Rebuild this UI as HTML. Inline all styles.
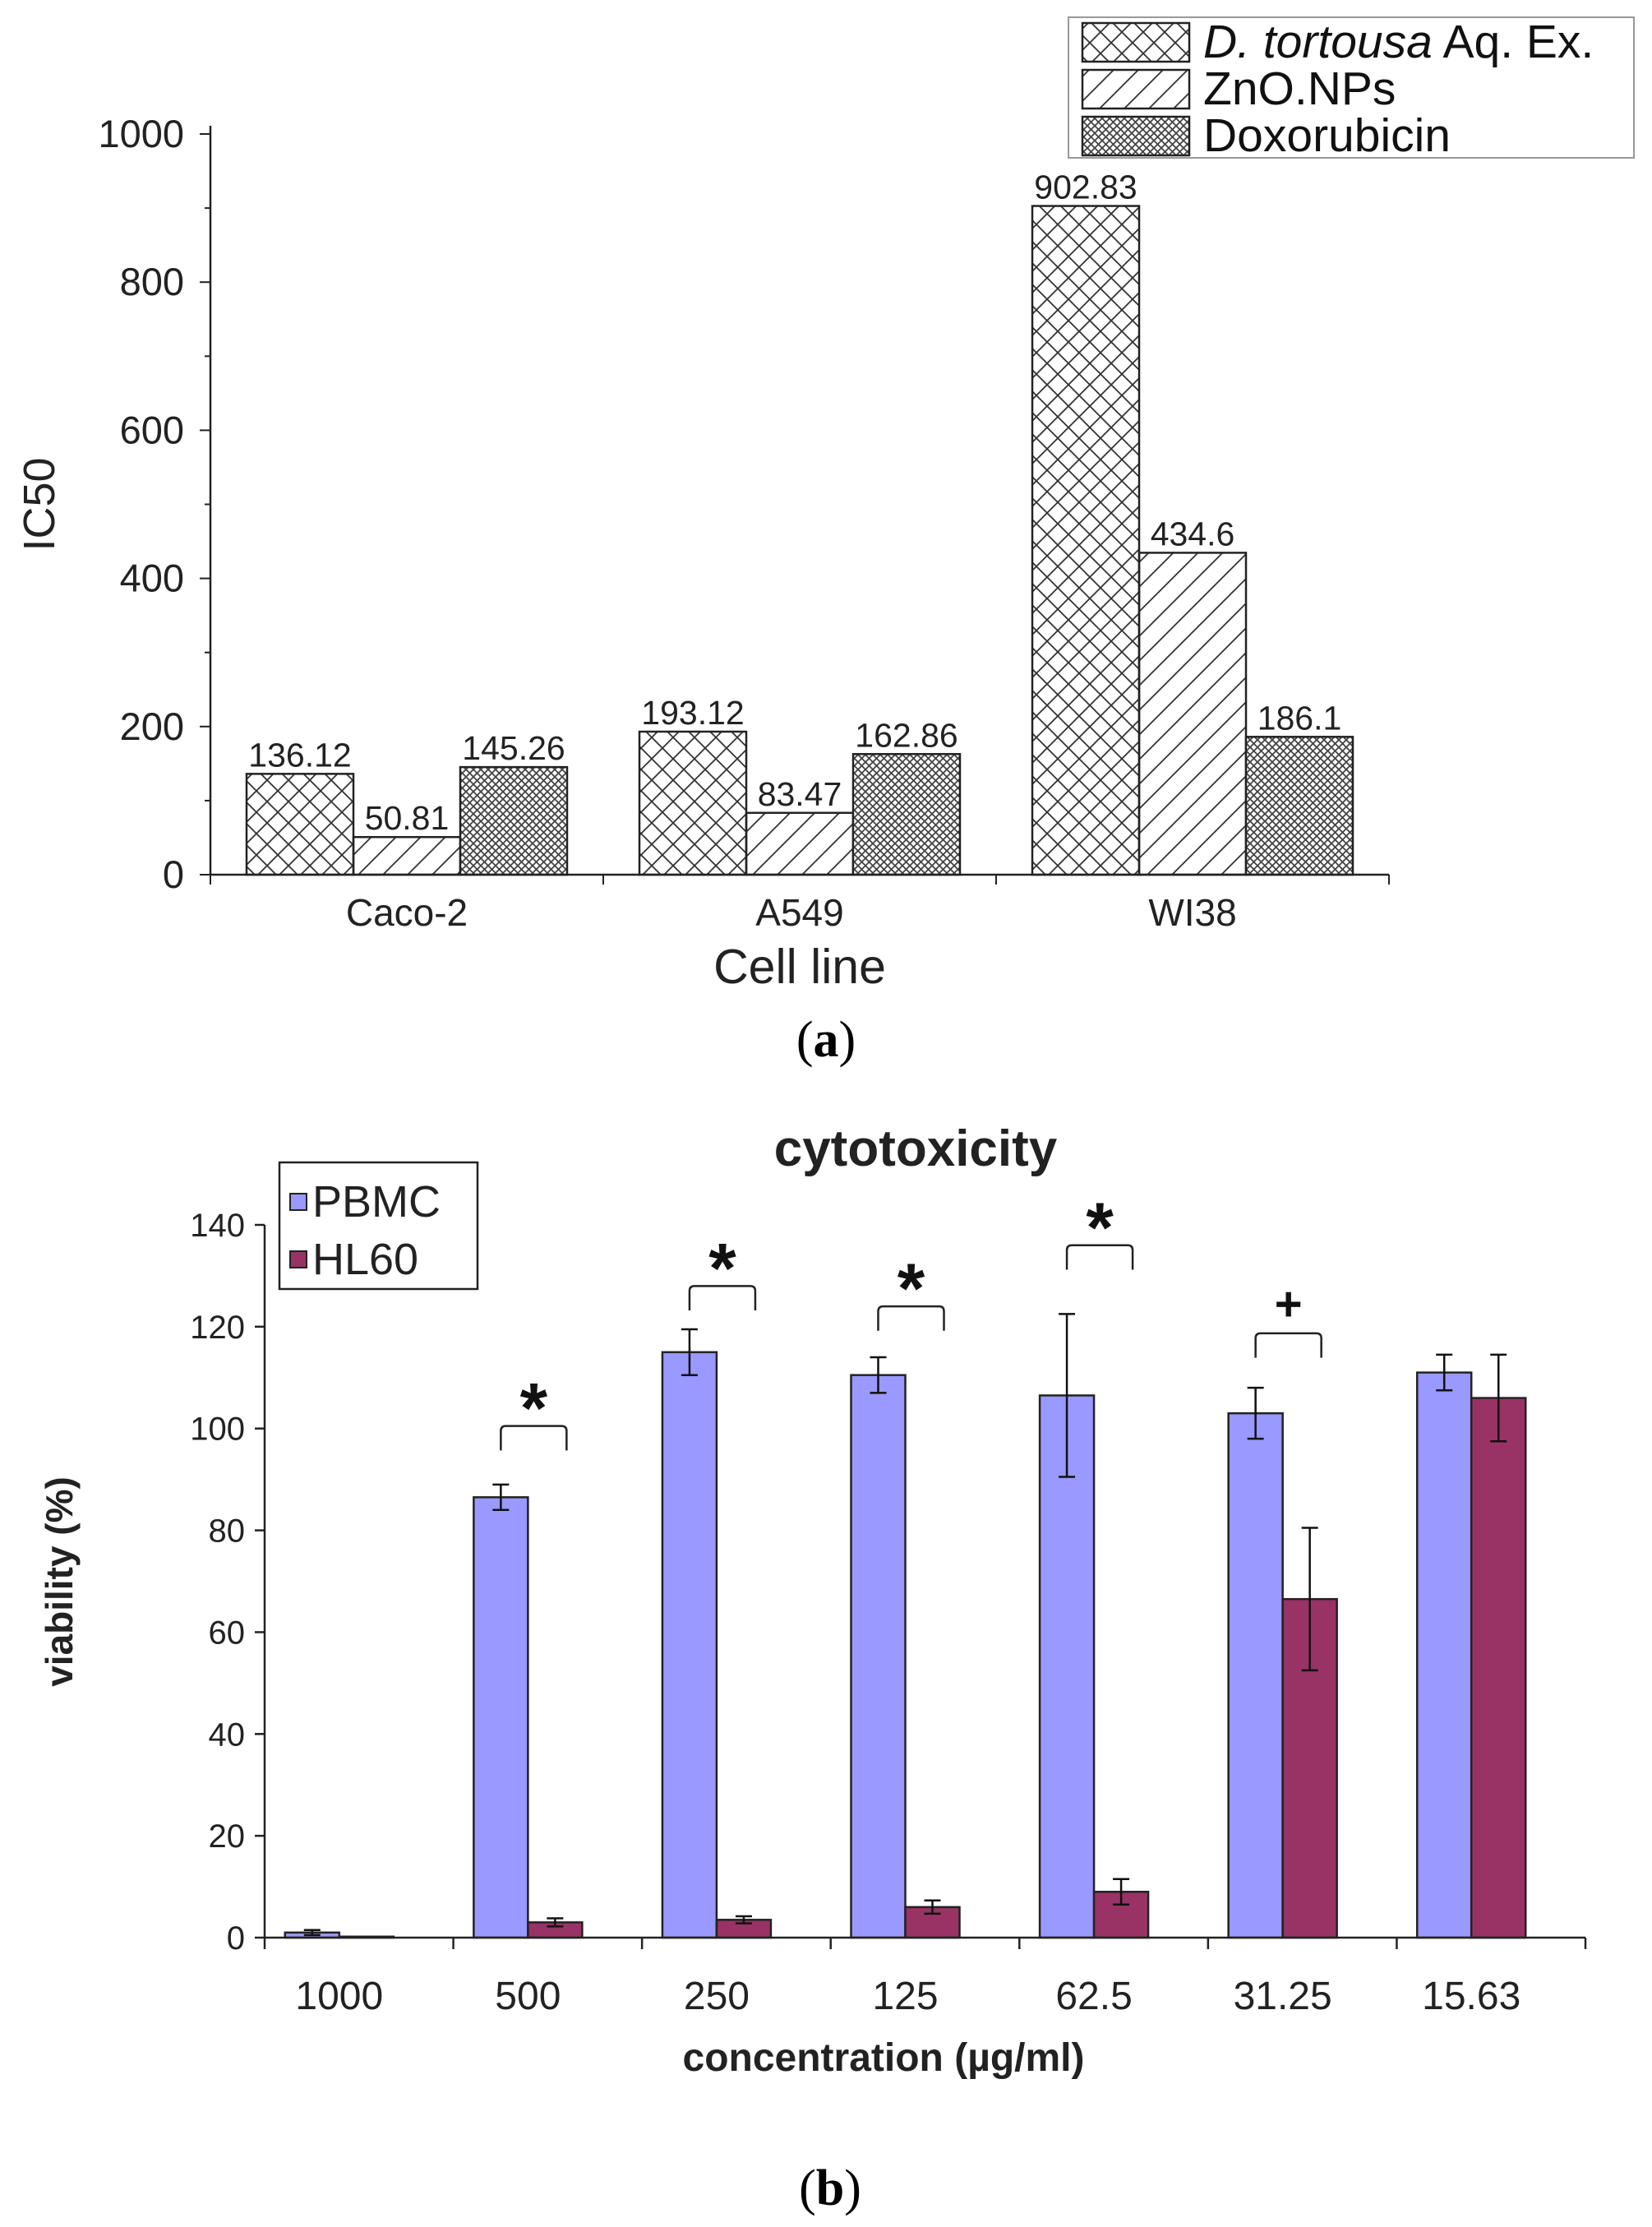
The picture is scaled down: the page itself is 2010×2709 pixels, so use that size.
<!DOCTYPE html>
<html><head><meta charset="utf-8"><style>
html,body{margin:0;padding:0;background:#fff;}
svg{display:block;font-family:"Liberation Sans",sans-serif;}
</style></head><body>
<svg id="fig" width="2010" height="2709" viewBox="0 0 2010 2709" xmlns="http://www.w3.org/2000/svg">
<defs>
<pattern id="pCross" width="26" height="26" patternUnits="userSpaceOnUse">
<path d="M0,0L26,26M26,0L0,26" stroke="#333" stroke-width="1.8"/></pattern>
<pattern id="pDiag" width="30" height="30" patternUnits="userSpaceOnUse">
<path d="M-8,38L38,-8M-8,8L8,-8M22,38L38,22" stroke="#333" stroke-width="1.8"/></pattern>
<pattern id="pDense" width="9" height="9" patternUnits="userSpaceOnUse">
<rect width="9" height="9" fill="#fff"/><path d="M0,0L9,9M9,0L0,9" stroke="#444" stroke-width="1.8"/></pattern>
</defs>
<g id="chartA"></g>
<g id="chartB"></g>
</svg>
<script>
// ---- Chart A data ----
const catsA = ["Caco-2","A549","WI38"];
const seriesNamesA = ["D. tortousa Aq. Ex.","ZnO.NPs","Doxorubicin"];
const dtortousaVals = [136.12,193.12,902.83];
const znoVals = [50.81,83.47,434.6];
const doxVals = [145.26,162.86,186.1];
const ticksA = [0,200,400,600,800,1000];
// ---- Chart B data ----
const catsB = ["1000","500","250","125","62.5","31.25","15.63"];
const pbmcVals = [1,86.5,115,110.5,106.5,103,111];
const pbmcErr = [0.5,2.5,4.5,3.5,16,5,3.5];
const hl60Vals = [0.2,3,3.5,6,9,66.5,106];
const hl60Err = [0,0.8,0.7,1.3,2.5,14,8.5];
const sigTop = [null,100.5,128,124,136,118.7,null];
const sigMark = [null,"*","*","*","*","+",null];
const ticksB = [0,20,40,60,80,100,120,140];

const NS="http://www.w3.org/2000/svg";
function mk(parent,tag,attrs,text){const e=document.createElementNS(NS,tag);for(const k in attrs)e.setAttribute(k,attrs[k]);if(text!==undefined)e.textContent=text;parent.appendChild(e);return e;}

// ===== Chart A =====
(function(){
const g=document.getElementById('chartA');
const L=256,R=1690,Y0=1064,Y1=163;
const y=v=>Y0-(v/1000)*(Y0-Y1);
const gw=(R-L)/catsA.length, bw=130, pad=(gw-3*bw)/2;
const fills=["url(#pCross)","url(#pDiag)","url(#pDense)"];
const series=[dtortousaVals,znoVals,doxVals];
series.forEach((vals,s)=>{vals.forEach((v,i)=>{
 const x=L+i*gw+pad+s*bw;
 const r=mk(g,'rect',{x:x,y:y(v),width:bw,height:Y0-y(v),fill:fills[s],stroke:'#222','stroke-width':2.5});
 
 
 const t=mk(g,'text',{x:x+bw/2,y:y(v)-9,'text-anchor':'middle','font-size':41,fill:'#222'},String(v));
 
 
});});
mk(g,'line',{x1:L,y1:Y1-10,x2:L,y2:Y0,stroke:'#222','stroke-width':2.5});
mk(g,'line',{x1:L,y1:Y0,x2:R,y2:Y0,stroke:'#222','stroke-width':2.5});
for(let v=0;v<=1000;v+=100){mk(g,'line',{x1:L-(v%200?7:13),y1:y(v),x2:L,y2:y(v),stroke:'#222','stroke-width':2});}
ticksA.forEach(v=>{const t=mk(g,'text',{x:L-32,y:y(v)+16,'text-anchor':'end','font-size':47,fill:'#222'},v);
 });
for(let i=0;i<=catsA.length;i++){mk(g,'line',{x1:L+i*gw,y1:Y0,x2:L+i*gw,y2:Y0+12,stroke:'#222','stroke-width':2});}
catsA.forEach((c,i)=>{const t=mk(g,'text',{x:L+(i+0.5)*gw,y:Y0+62,'text-anchor':'middle','font-size':46,fill:'#222'},c);
 });
let t=mk(g,'text',{x:0,y:0,transform:'translate(66,'+((Y0+Y1)/2)+') rotate(-90)','text-anchor':'middle','font-size':54,fill:'#222'},'IC50');

t=mk(g,'text',{x:(L+R)/2,y:1196,'text-anchor':'middle','font-size':59,fill:'#222'},'Cell line');

t=mk(g,'text',{x:1005,y:1285,'text-anchor':'middle','font-size':62,'font-family':'Liberation Serif, serif',fill:'#000'},'');
mk(t,'tspan',{},'(');mk(t,'tspan',{'font-weight':'bold'},'a');mk(t,'tspan',{},')');

// legend
const lg=mk(g,'g',{});

mk(lg,'rect',{x:1300,y:21,width:688,height:171,fill:'#fff',stroke:'#999','stroke-width':2});
const rowsY=[28,85,142];
seriesNamesA.forEach((n,s)=>{
 mk(lg,'rect',{x:1317,y:rowsY[s],width:130,height:47,fill:fills[s],stroke:'#222','stroke-width':2.5});
 const tx=mk(lg,'text',{x:1464,y:rowsY[s]+42,'font-size':57,fill:'#111'},'');
 if(s===0){mk(tx,'tspan',{'font-style':'italic'},'D. tortousa');mk(tx,'tspan',{},' Aq. Ex.');}
 else tx.textContent=n;
 
});
})();

// ===== Chart B =====
(function(){
const g=document.getElementById('chartB');
const L=322,R=1929,Y0=2357,Y1=1490;
const y=v=>Y0-(v/140)*(Y0-Y1);
const cw=(R-L)/catsB.length,bw=66,off=-24;
const cols=["#9999ff","#993366"];
catsB.forEach((c,i)=>{
 const cx=L+(i+0.5)*cw+off;
 [[pbmcVals,pbmcErr],[hl60Vals,hl60Err]].forEach((p,s)=>{
  const v=p[0][i],e=p[1][i],x=cx-bw+s*bw;
  const r=mk(g,'rect',{x:x,y:y(v),width:bw,height:Y0-y(v),fill:cols[s],stroke:'#222','stroke-width':2.5});
  
  
  if(e>0){const mx=x+bw/2;
   mk(g,'path',{d:`M${mx},${y(v+e)}V${y(v-e)}M${mx-10},${y(v+e)}H${mx+10}M${mx-10},${y(v-e)}H${mx+10}`,stroke:'#111','stroke-width':2.5,fill:'none'});}
 });
 if(sigTop[i]!==null){
  const x1=cx-bw/2,x2=cx+bw/2+14,yt=y(sigTop[i]),yb=y(sigTop[i]-4.8);
  mk(g,'path',{d:`M${x1},${yb}V${yt+6}Q${x1},${yt} ${x1+6},${yt}H${x2-6}Q${x2},${yt} ${x2},${yt+6}V${yb}`,stroke:'#222','stroke-width':2.5,fill:'none'});
  const isStar=sigMark[i]==='*';
  const m=mk(g,'text',{x:(x1+x2)/2,y:isStar?yt+8:yt-16,'text-anchor':'middle','font-size':isStar?86:58,'font-weight':'bold',fill:'#111'},sigMark[i]);
  
 }
 const t=mk(g,'text',{x:cx,y:Y0+87,'text-anchor':'middle','font-size':48,fill:'#222'},c);
 
});
mk(g,'line',{x1:L,y1:Y1,x2:L,y2:Y0,stroke:'#222','stroke-width':2.5});
mk(g,'line',{x1:L,y1:Y0,x2:R,y2:Y0,stroke:'#222','stroke-width':2.5});
ticksB.forEach(v=>{mk(g,'line',{x1:L-12,y1:y(v),x2:L,y2:y(v),stroke:'#222','stroke-width':2.5});
 const t=mk(g,'text',{x:L-24,y:y(v)+14,'text-anchor':'end','font-size':40,fill:'#222'},v);
 });
for(let i=0;i<=catsB.length;i++){mk(g,'line',{x1:L+i*cw,y1:Y0,x2:L+i*cw,y2:Y0+14,stroke:'#222','stroke-width':2.5});}
let t=mk(g,'text',{x:1114,y:1418,'text-anchor':'middle','font-size':62,'font-weight':'bold',fill:'#222'},'cytotoxicity');

t=mk(g,'text',{x:0,y:0,transform:'translate(88,1924) rotate(-90)','text-anchor':'middle','font-size':46,'font-weight':'bold',fill:'#222'},'viability (%)');

t=mk(g,'text',{x:1075,y:2519,'text-anchor':'middle','font-size':48,'font-weight':'bold',fill:'#222'},'concentration (µg/ml)');

t=mk(g,'text',{x:1010,y:2682,'text-anchor':'middle','font-size':62,'font-family':'Liberation Serif, serif',fill:'#000'},'');
mk(t,'tspan',{},'(');mk(t,'tspan',{'font-weight':'bold'},'b');mk(t,'tspan',{},')');

const lg=mk(g,'g',{});

mk(lg,'rect',{x:340,y:1414,width:241,height:154,fill:'#fff',stroke:'#222','stroke-width':2.5});
["PBMC","HL60"].forEach((n,s)=>{const yy=1462+s*70;
 mk(lg,'rect',{x:353,y:yy-10,width:20,height:20,fill:cols[s],stroke:'#222','stroke-width':2});
 const tx=mk(lg,'text',{x:380,y:yy+18,'font-size':54,fill:'#222'},n);
 });
})();
</script>
</body></html>
